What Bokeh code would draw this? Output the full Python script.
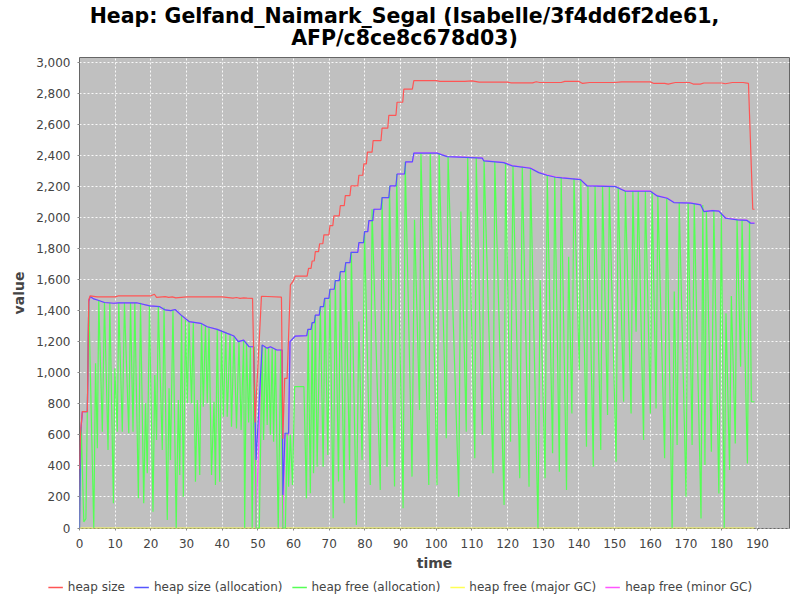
from bokeh.plotting import figure
from bokeh.layouts import column, row
from bokeh.models import Range1d, Legend, LegendItem, NumeralTickFormatter, FixedTicker, ColumnDataSource
from bokeh.core.properties import value
from bokeh.embed import file_html
from bokeh.resources import INLINE

TITLE_LINES = ["Heap: Gelfand_Naimark_Segal (Isabelle/3f4dd6f2de61,", "AFP/c8ce8c678d03)"]
SERIES = ["heap size", "heap size (allocation)", "heap free (allocation)",
          "heap free (major GC)", "heap free (minor GC)"]
X_TICKS = list(range(0, 191, 10))
Y_TICKS = list(range(0, 3001, 200))

heap_size = [(0, 380), (0.3, 620), (0.8, 750), (2.2, 750), (2.6, 1470), (3.0, 1495), (5, 1488), (10, 1488),
             (11, 1495), (20, 1495), (21, 1505), (21.6, 1485), (24, 1490), (25, 1485), (26, 1488), (27, 1482),
             (30, 1488), (40, 1488), (43, 1480), (44, 1484), (45, 1478), (46, 1482), (47, 1480), (48.5, 1478),
             (49.2, 680), (51.0, 1492), (56.6, 1486), (57.0, 575), (57.5, 964), (58.2, 964), (59.1, 1565),
             (59.8, 1586), (60.5, 1622), (63.8, 1622), (64.2, 1672), (64.9, 1672), (65.2, 1719), (65.8, 1719),
             (66.1, 1779), (67.0, 1779), (67.3, 1830), (68.2, 1830), (68.5, 1887), (69.9, 1887), (70.2, 1947),
             (71.0, 1947), (71.3, 2009), (72.8, 2009), (73.1, 2075), (74.2, 2075), (74.5, 2140), (75.8, 2140),
             (76.1, 2202), (78.0, 2202), (78.3, 2271), (79.4, 2271), (79.7, 2344), (80.4, 2344), (80.7, 2420),
             (82.0, 2420), (82.3, 2494), (84.5, 2494), (84.8, 2574), (86.4, 2574), (86.7, 2657), (88.7, 2657),
             (89.0, 2741), (90.6, 2741), (90.9, 2825), (93.3, 2825), (93.7, 2880), (100, 2880), (101, 2875),
             (108, 2875), (110, 2878), (112, 2870), (120, 2870), (121, 2866), (127, 2866), (128, 2873),
             (129, 2868), (135, 2868), (136, 2875), (140, 2875), (141, 2862), (143, 2868), (150, 2868),
             (152, 2872), (160, 2872), (161, 2862), (164, 2862), (165, 2858), (167, 2868), (171, 2868),
             (172, 2858), (174, 2858), (175, 2865), (180, 2865), (181, 2860), (183, 2868), (186, 2868),
             (187.5, 2862), (188.7, 2052), (189.2, 2052)]

heap_alloc = [(0, 0), (0.3, 600), (0.8, 750), (2.2, 750), (2.6, 1460), (3.0, 1490), (4.0, 1475), (5.0, 1468),
              (7.0, 1452), (9.6, 1447), (11.0, 1450), (16.0, 1450), (19.7, 1430), (22.5, 1425), (24.0, 1404),
              (25.6, 1400), (26.8, 1407), (28.4, 1372), (30.7, 1329), (34.0, 1318), (35.8, 1296), (38.6, 1279),
              (41.4, 1253), (43.3, 1236), (44.5, 1200), (46.0, 1210), (47.5, 1167), (48.8, 1167), (49.5, 438),
              (51.2, 1178), (52.6, 1158), (53.5, 1167), (55.3, 1146), (56.8, 1146), (57.0, 212), (57.6, 610),
              (58.6, 610), (59.0, 1200), (60.5, 1236), (63.7, 1238), (64.0, 1279), (64.9, 1279), (65.2, 1322),
              (65.8, 1322), (66.1, 1371), (67.2, 1371), (67.5, 1425), (68.4, 1425), (68.7, 1479), (69.9, 1479),
              (70.2, 1537), (71.4, 1537), (71.7, 1593), (72.8, 1593), (73.1, 1650), (74.3, 1650), (74.6, 1708),
              (75.8, 1708), (76.1, 1775), (78.0, 1775), (78.3, 1837), (79.6, 1837), (79.9, 1908), (80.8, 1908),
              (81.1, 1979), (82.2, 1979), (82.5, 2052), (84.5, 2052), (84.8, 2127), (86.7, 2127), (87.0, 2202),
              (88.7, 2202), (89.0, 2279), (91.1, 2279), (91.4, 2357), (93.3, 2357), (93.7, 2413), (100.2, 2413),
              (103.0, 2391), (112.9, 2381), (113.3, 2364), (118.9, 2352), (121.3, 2331), (126.4, 2316),
              (128.7, 2288), (131.0, 2271), (133.4, 2258), (135.2, 2254), (140.4, 2243), (142.3, 2202),
              (150.2, 2198), (153.0, 2168), (160.0, 2168), (161.9, 2138), (164.7, 2123), (166.6, 2095),
              (171.3, 2091), (174.1, 2080), (175.0, 2037), (177.4, 2043), (179.2, 2040), (181.1, 1994),
              (184.4, 1984), (187.1, 1980), (188.1, 1962), (189.2, 1962)]

free_alloc = [(0.0, 0), (0.5, 650), (1.2, 40), (1.8, 60), (2.6, 1460), (4.0, 0), (4.5, 1060), (5.0, 513),
              (5.4, 1468), (6.4, 620), (7.0, 1455), (8.0, 502), (8.5, 1450), (9.5, 159), (9.9, 1028), (10.6, 620),
              (11.0, 1450), (12.0, 620), (12.6, 1450), (13.8, 610), (14.3, 1450), (15.0, 620), (15.5, 1450),
              (16.5, 191), (17.1, 1450), (18.0, 159), (18.5, 803), (19.0, 352), (19.6, 1432), (20.6, 105),
              (21.1, 985), (21.6, 567), (22.1, 1425), (23.2, 502), (23.7, 1420), (24.6, 52), (25.1, 900),
              (25.5, 438), (26.2, 1404), (27.1, 0), (27.7, 824), (28.1, 341), (28.6, 1370), (29.1, 202),
              (29.7, 1340), (30.2, 803), (30.7, 1329), (31.4, 803), (31.9, 1322), (32.5, 298), (33.0, 824),
              (33.7, 341), (34.2, 1316), (34.7, 781), (35.3, 1305), (35.8, 803), (36.3, 1295), (37.0, 341),
              (37.7, 813), (38.1, 277), (38.6, 1279), (39.3, 298), (39.8, 1272), (40.3, 717), (41.0, 1258),
              (41.4, 717), (42.2, 1250), (42.6, 652), (43.3, 1236), (44.0, 641), (44.7, 1200), (45.3, 631),
              (46.0, 1210), (46.3, 0), (46.8, 1195), (47.4, 680), (47.9, 1167), (48.4, 0), (49.0, 1167),
              (49.5, 0), (50.4, 0), (51.2, 1178), (51.6, 567), (52.1, 1165), (52.6, 663), (53.0, 1165),
              (53.5, 600), (54.0, 1158), (54.4, 556), (54.9, 1150), (55.7, 0), (56.4, 1146), (57.0, 0),
              (57.7, 0), (58.2, 610), (58.6, 266), (59.1, 600), (59.7, 277), (60.3, 910), (62.9, 910),
              (63.6, 191), (64.1, 1279), (64.7, 224), (65.2, 1322), (65.6, 353), (66.1, 1371), (66.6, 395),
              (67.5, 1425), (68.3, 395), (68.8, 1479), (69.6, 471), (70.2, 1537), (71.1, 63), (71.7, 1593),
              (72.6, 299), (73.1, 1650), (74.2, 160), (74.6, 1708), (75.7, 374), (76.2, 1775), (77.6, 20),
              (78.3, 1329), (79.2, 438), (79.9, 1908), (81.5, 277), (82.0, 2052), (84.3, 245), (84.8, 2127),
              (86.2, 395), (86.9, 2202), (88.3, 267), (88.9, 2279), (90.7, 127), (91.3, 2357), (93.2, 331),
              (93.9, 1984), (95.3, 760), (95.7, 2413), (97.9, 277), (98.3, 2413), (100.2, 277), (100.8, 2410),
              (102.8, 578), (103.3, 2391), (106.3, 202), (106.9, 2037), (108.4, 620), (108.8, 2385),
              (110.8, 449), (111.2, 2383), (112.9, 600), (113.4, 2364), (115.9, 352), (116.4, 2358),
              (119.0, 148), (119.4, 2350), (120.8, 556), (121.5, 2331), (123.4, 320), (124.1, 2325),
              (126.0, 266), (126.4, 2316), (128.5, 0), (129.1, 1597), (130.5, 320), (131.1, 2271),
              (132.6, 481), (133.2, 2260), (134.5, 363), (135.0, 2255), (136.5, 245), (137.1, 1747),
              (138.0, 738), (138.6, 2250), (140.1, 1017), (140.5, 2243), (142.1, 524), (142.5, 2202),
              (144.0, 395), (144.5, 2200), (146.1, 502), (146.6, 2200), (148.0, 728), (148.5, 2198),
              (150.4, 427), (151.0, 2190), (152.5, 813), (153.0, 2170), (154.6, 738), (155.1, 2168),
              (156.0, 1264), (156.6, 2168), (158.1, 567), (158.6, 2168), (160.0, 738), (160.5, 2165),
              (161.6, 770), (162.1, 2138), (164.0, 449), (164.6, 2123), (166.1, 0), (166.7, 1522),
              (167.5, 534), (168.1, 2095), (170.0, 202), (170.6, 2091), (171.7, 534), (172.3, 2088),
              (174.2, 62), (174.7, 2080), (175.3, 406), (175.7, 2040), (177.1, 491), (177.8, 2043),
              (179.2, 223), (179.9, 2030), (180.7, 0), (181.2, 1382), (182.2, 373), (182.7, 1494),
              (183.8, 545), (184.3, 1984), (185.3, 1039), (185.7, 1982), (187.2, 416), (187.8, 1975),
              (188.3, 813), (189.2, 813)]

free_major = [(0, 0), (189.2, 0)]

free_minor = [(0, 0), (0.3, 600), (0.8, 750), (2.2, 750), (2.6, 1460), (3.0, 1490), (4.0, 1475), (5.0, 1468),
              (7.0, 1452), (9.6, 1447), (11.0, 1450), (16.0, 1450), (19.7, 1430), (22.5, 1425), (24.0, 1404),
              (25.6, 1400), (26.8, 1407), (28.4, 1372), (30.7, 1329), (34.0, 1318), (35.8, 1296), (38.6, 1279),
              (41.4, 1253), (43.3, 1236), (44.5, 1200), (46.0, 1210), (47.5, 1167), (48.8, 1167), (49.4, 0),
              (51.2, 1178), (52.6, 1158), (53.5, 1167), (55.3, 1146), (56.8, 1146), (57.0, 0), (57.6, 600),
              (58.6, 600), (59.0, 1200), (60.5, 1236), (63.7, 1238), (64.1, 1279), (64.9, 1279), (65.3, 1322),
              (65.8, 1322), (66.2, 1371), (67.2, 1371), (67.6, 1425), (68.4, 1425), (68.8, 1479), (69.9, 1479),
              (70.3, 1537), (71.4, 1537), (71.8, 1593), (72.8, 1593), (73.2, 1650), (74.3, 1650), (74.7, 1708),
              (75.8, 1708), (76.2, 1775), (78.0, 1775), (78.4, 1837), (79.6, 1837), (80.0, 1908), (80.8, 1908),
              (81.2, 1979), (82.2, 1979), (82.6, 2052), (84.5, 2052), (84.9, 2127), (86.7, 2127), (87.1, 2202),
              (88.7, 2202), (89.1, 2279), (91.1, 2279), (91.5, 2357), (93.3, 2357), (93.8, 2415), (100.2, 2415),
              (103.0, 2393), (112.9, 2383), (113.3, 2366), (118.9, 2354), (121.3, 2333), (126.4, 2318),
              (128.7, 2290), (131.0, 2273), (133.4, 2260), (135.2, 2256), (140.4, 2245), (142.3, 2204),
              (150.2, 2200), (153.0, 2170), (160.0, 2170), (161.9, 2140), (164.7, 2125), (166.6, 2097),
              (171.3, 2093), (174.1, 2082), (175.0, 2039), (177.4, 2045), (179.2, 2042), (181.1, 1996),
              (184.4, 1986), (187.1, 1982), (188.1, 1964), (189.2, 1964)]

COLORS = ["#ff5555", "#5555ff", "#55ff55", "#ffff55", "#ff55ff"]
FONT = "DejaVu Sans"
W = 800
BORDER_L, BORDER_R = 79, 11
TITLE_H, MAIN_H, LEG_H = 52, 522, 26


def bare(height):
    # frames of the strips get aligned with the main plot's frame by the column layout,
    # so the x range is expressed in page pixels of that frame
    f = figure(width=W, height=height, output_backend="svg", toolbar_location=None,
               x_range=Range1d(BORDER_L, W - BORDER_R), y_range=Range1d(0, height),
               x_axis_type=None, y_axis_type=None,
               min_border_left=0, min_border_right=0, min_border_top=0, min_border_bottom=0)
    f.grid.visible = False
    f.outline_line_color = None
    f.background_fill_color = "white"
    f.border_fill_color = "white"
    f.title.visible = False
    return f


# ---- title strip ----
t = bare(TITLE_H)
t.text(x=[404, 404], y=[37.0, 14.5], text=TITLE_LINES,
       text_font=value(FONT), text_font_size="20.5px", text_font_style="bold",
       text_color="#000000", text_align="center", text_baseline="alphabetic")

# ---- main plot ----
p = figure(width=W, height=MAIN_H, output_backend="svg", toolbar_location=None,
           x_range=Range1d(0, 199), y_range=Range1d(-3, 3029),
           min_border_left=BORDER_L, min_border_right=BORDER_R, min_border_top=5, min_border_bottom=46)
p.title.visible = False
p.background_fill_color = "#c0c0c0"
p.border_fill_color = "white"
p.outline_line_color = "#666666"

for g in (p.xgrid, p.ygrid):
    g.grid_line_color = "white"
    g.grid_line_dash = "2 2"
    g.grid_line_alpha = 0.9
    g.grid_line_width = 1

p.xaxis.ticker = FixedTicker(ticks=X_TICKS)
p.yaxis.ticker = FixedTicker(ticks=Y_TICKS)
p.yaxis.formatter = NumeralTickFormatter(format="0,0")
p.xaxis.axis_label = "time"
p.yaxis.axis_label = "value"
for ax in (p.xaxis, p.yaxis):
    ax.axis_label_text_font = FONT
    ax.axis_label_text_font_size = "14px"
    ax.axis_label_text_font_style = "bold"
    ax.axis_label_text_color = "#444444"
    ax.major_label_text_font = FONT
    ax.major_label_text_font_size = "12px"
    ax.major_label_text_color = "#444444"
    ax.axis_line_color = None
    ax.major_tick_line_color = "#888888"
    ax.major_tick_in = 0
    ax.major_tick_out = 2
    ax.minor_tick_line_color = None
p.xaxis.major_label_standoff = 8
p.xaxis.axis_label_standoff = 4
p.yaxis.major_label_standoff = 7
p.yaxis.axis_label_standoff = 6


def xy(pairs):
    return [a for a, b in pairs], [b for a, b in pairs]


order = [(3, free_major), (4, free_minor), (2, free_alloc), (1, heap_alloc), (0, heap_size)]
for idx, data in order:
    xs, ys = xy(data)
    src = ColumnDataSource(data=dict(x=xs, y=ys))
    p.line("x", "y", source=src, line_color=COLORS[idx], line_width=1.2)

# ---- legend strip (nested in its own row so its frame can span the full width) ----
lg = bare(LEG_H)
items = []
for i, name in enumerate(SERIES):
    # off-range stand-in renderers that only supply the legend swatch style
    r = lg.line(x=[0, 1], y=[-100, -100], line_color=COLORS[i], line_width=1.5)
    items.append(LegendItem(label=name, renderers=[r]))
legend = Legend(items=items, orientation="horizontal", location="center",
                border_line_color=None, background_fill_alpha=0,
                label_text_font=FONT, label_text_font_size="12px", label_text_color="#444444",
                glyph_width=15, glyph_height=10, label_height=10, spacing=9, padding=0, margin=0,
                label_standoff=5)
lg.add_layout(legend, "center")

layout = column(t, p, row(lg, spacing=0), spacing=0)
open("out.html", "w").write(file_html(layout, INLINE))
